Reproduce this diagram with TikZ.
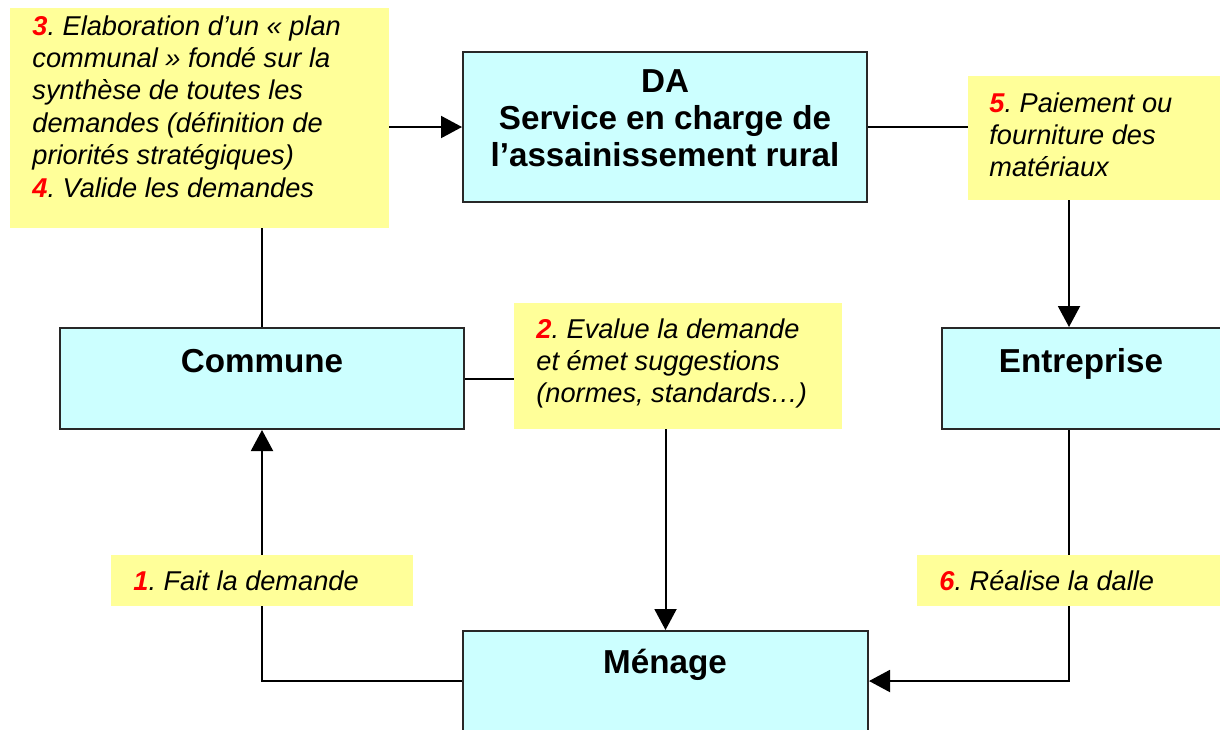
\documentclass[tikz,border=0pt]{standalone}
\usepackage{fontspec}
\setmainfont{Liberation Sans}
\usetikzlibrary{arrows.meta}
\definecolor{boxcyan}{RGB}{204,255,255}
\definecolor{noteyellow}{RGB}{255,255,153}
\definecolor{numred}{RGB}{255,0,0}
\definecolor{boxline}{RGB}{40,40,40}
\pgfdeclarelayer{paper}
\pgfdeclarelayer{bg}
\pgfsetlayers{paper,bg,main}
\frenchspacing
\newcommand{\stepnum}[1]{\textcolor{numred}{\textbf{#1}}}
\begin{document}
\begin{tikzpicture}[x=0.5pt,y=-0.5pt,
  actor/.style={draw=boxline,line width=1pt,fill=boxcyan,inner sep=0pt},
  note/.style={fill=noteyellow,inner sep=0pt},
  title/.style={font=\fontsize{16.6}{18.5}\selectfont\bfseries,inner sep=0pt},
  notetext/.style={font=\fontsize{13.6}{16.2}\selectfont\itshape,inner sep=0pt,align=left},
  link/.style={line width=1pt},
  arrow/.style={link,-{Triangle[length=10.5pt,width=11pt]}}]
\clip (0,0) rectangle (1220,729);
\begin{pgfonlayer}{paper}
\fill[white] (0,0) rectangle (1220,729);
\end{pgfonlayer}
% boxes
\node[note,minimum width=189.5pt,minimum height=110pt] (Y34) at (199.5,118) {};
\node[actor,minimum width=202pt,minimum height=75pt] (DA) at (665,127) {};
\node[note,minimum width=131pt,minimum height=62pt] (Y5) at (1099,138) {};
\node[actor,minimum width=202pt,minimum height=50.5pt] (Com) at (262,378.5) {};
\node[note,minimum width=164pt,minimum height=63pt] (Y2) at (678,366) {};
\node[actor,minimum width=149pt,minimum height=50.5pt] (Ent) at (1091,378.5) {};
\node[actor,minimum width=202.5pt,minimum height=64.5pt] (Men) at (665.5,695.5) {};
\node[note,minimum width=151pt,minimum height=25.5pt] (Y1) at (262,580.5) {};
\node[note,minimum width=156.5pt,minimum height=25.5pt] (Y6) at (1073.5,580.5) {};
% connectors
\begin{pgfonlayer}{bg}
\draw[arrow] (DA.west -| Y34.east) -- (DA.west);
\draw[link] (DA.east) -- (DA.east -| Y5.west);
\coordinate (c5) at (1069,0);
\draw[arrow] (Y5.south -| c5) -- (Ent.north -| c5);
\draw[link] (Y34.south -| Com.north) -- (Com.north);
\draw[link] (Com.east) -- (Com.east -| Y2.west);
\draw[arrow] (Y2.south -| Men.north) -- (Men.north);
\coordinate (m6) at (1069,681);
\draw[arrow] (Ent.south -| m6) -- (m6) -- (m6 -| Men.east);
\coordinate (m1) at (262,681);
\draw[arrow] (m1 -| Men.west) -- (m1) -- (Com.south);
\end{pgfonlayer}
% texts
\node[title,anchor=base] (tcom) at (262,372) {Commune};
\node[title,anchor=base] (tent) at (1081,372) {Entreprise};
\node[title,anchor=base] (tmen) at (665,673) {Ménage};
\node[title,anchor=north,align=center] (tda) at (665,69) {DA\\Service en charge de\\l’assainissement rural};
\node[notetext,anchor=north west] (t34) at (32,15) {\stepnum{3}. Elaboration d’un « plan\\communal » fondé sur la\\synthèse de toutes les\\demandes (définition de\\priorités stratégiques)\\\stepnum{4}. Valide les demandes};
\node[notetext,anchor=north west] (t5) at (989,92) {\stepnum{5}. Paiement ou\\fourniture des\\matériaux};
\node[notetext,anchor=north west] (t2) at (536,318) {\stepnum{2}. Evalue la demande\\et émet suggestions\\(normes, standards…)};
\node[notetext,anchor=base west] (t1) at (133,590) {\stepnum{1}. Fait la demande};
\node[notetext,anchor=base west] (t6) at (939,590) {\stepnum{6}. Réalise la dalle};
\end{tikzpicture}
\end{document}
